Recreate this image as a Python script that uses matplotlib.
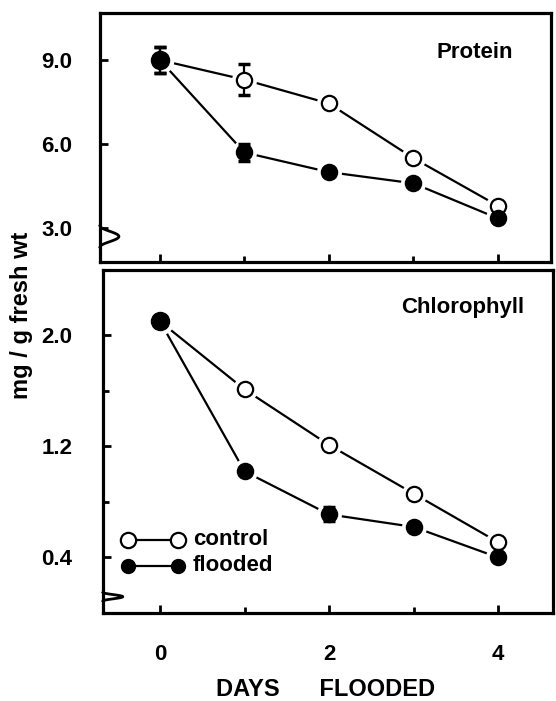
import matplotlib
matplotlib.use("Agg")
import matplotlib.pyplot as plt
import numpy as np

plt.rcParams['font.family'] = ['Liberation Sans', 'DejaVu Sans']
plt.rcParams['font.weight'] = 'bold'

days = [0, 1, 2, 3, 4]
protein_control = [9.0, 8.3, 7.45, 5.5, 3.8]
protein_control_err = [0.45, 0.55, 0, 0, 0]
protein_flooded = [9.0, 5.7, 5.0, 4.6, 3.35]
protein_flooded_err = [0.45, 0.3, 0, 0, 0]
chl_control = [2.1, 1.61, 1.21, 0.86, 0.51]
chl_control_err = [0, 0, 0, 0, 0]
chl_flooded = [2.1, 1.02, 0.71, 0.62, 0.40]
chl_flooded_err = [0, 0, 0.05, 0, 0]

protein_ticks = [3.0, 6.0, 9.0]
protein_ticklabels = ["3.0", "6.0", "9.0"]
chl_ticks = [0.4, 1.2, 2.0]
chl_ticklabels = ["0.4", "1.2", "2.0"]
x_ticks = [0, 2, 4]
x_ticklabels = ["0", "2", "4"]

W, H = 556, 701
fig = plt.figure(figsize=(W/100, H/100), dpi=100)

def fr(l, t, r, b):
    return [l/W, 1-b/H, (r-l)/W, (b-t)/H]

ax1 = fig.add_axes(fr(100, 13, 551, 262))
ax2 = fig.add_axes(fr(103, 270, 553, 613))

TICKFS = 16

def style(ax, xl):
    ax.set_xlim(*xl)
    for s in ax.spines.values():
        s.set_linewidth(2.3)
    ax.tick_params(direction='in', width=2.0, length=6)
    ax.tick_params(axis='both', which='minor', direction='in', width=2.0, length=4)

def draw(ax, ctrl, cerr, fl, ferr, bigm=13, m=11):
    x = np.array(days)
    lw = 1.6
    ax.plot(x[1:], ctrl[1:], '-', color='black', lw=lw, zorder=2)
    ax.plot([x[0], x[1]], [fl[0], ctrl[1]], '-', color='black', lw=lw, zorder=2)
    ax.plot(x, fl, '-', color='black', lw=lw, zorder=2)
    ax.plot(x[1:], ctrl[1:], 'o', ms=m+7, mfc='white', mec='none', zorder=3)
    ax.plot(x[1:], fl[1:], 'o', ms=m+7, mfc='white', mec='none', zorder=3)
    ax.plot(x[:1], fl[:1], 'o', ms=bigm+7, mfc='white', mec='none', zorder=3)
    for xi, yi, e in zip(x, ctrl, cerr):
        if e > 0:
            ax.errorbar(xi, yi, yerr=e, fmt='none', ecolor='black', elinewidth=1.6, capsize=4, capthick=2.5, zorder=4)
    for xi, yi, e in zip(x, fl, ferr):
        if e > 0:
            ax.errorbar(xi, yi, yerr=e, fmt='none', ecolor='black', elinewidth=1.6, capsize=4, capthick=2.5, zorder=4)
    ax.plot(x[1:], ctrl[1:], 'o', ms=m, mfc='white', mec='black', mew=1.6, zorder=5)
    ax.plot(x[1:], fl[1:], 'o', ms=m, mfc='black', mec='black', mew=1.6, zorder=5)
    ax.plot(x[:1], fl[:1], 'o', ms=bigm, mfc='black', mec='black', zorder=5)

def squiggle(ax, ytop, ybot, w):
    t = np.linspace(0, 1, 30)
    ys = ytop + (ybot - ytop) * t
    xs = w * np.sin(np.pi * t) ** 2
    ax.plot(xs, ys, color='black', lw=2.0, transform=ax.transAxes, clip_on=False, zorder=6)

style(ax1, (-0.71, 4.63))
ax1.set_ylim(1.79, 10.68)
ax1.set_yticks(protein_ticks)
ax1.set_yticklabels(protein_ticklabels, fontsize=TICKFS, fontweight='bold')
ax1.set_xticks(x_ticks)
ax1.set_xticks([1, 3], minor=True)
ax1.set_xticklabels([])
ax1.tick_params(axis='y', pad=20)
draw(ax1, protein_control, protein_control_err, protein_flooded, protein_flooded_err)
ax1.text(0.915, 0.84, "Protein", transform=ax1.transAxes, ha='right', va='center', fontsize=16, fontweight='bold')
squiggle(ax1, 0.145, 0.06, 0.042)

style(ax2, (-0.675, 4.65))
ax2.set_ylim(0.0, 2.47)
ax2.set_yticks(chl_ticks)
ax2.set_yticklabels(chl_ticklabels, fontsize=TICKFS, fontweight='bold')
ax2.set_yticks([0.8, 1.6], minor=True)
ax2.set_xticks(x_ticks)
ax2.set_xticks([1, 3], minor=True)
ax2.set_xticklabels(x_ticklabels, fontsize=TICKFS, fontweight='bold')
ax2.tick_params(axis='y', pad=22)
ax2.tick_params(axis='x', pad=22)
draw(ax2, chl_control, chl_control_err, chl_flooded, chl_flooded_err)
ax2.text(0.935, 0.89, "Chlorophyll", transform=ax2.transAxes, ha='right', va='center', fontsize=16, fontweight='bold')
squiggle(ax2, 0.06, 0.035, 0.044)

lx = [0.056, 0.167]
ax2.plot(lx, [0.213, 0.213], '-o', transform=ax2.transAxes, color='black', lw=1.6,
         ms=11, mfc='white', mec='black', mew=1.6, clip_on=False, zorder=6)
ax2.plot(lx, [0.138, 0.138], '-o', transform=ax2.transAxes, color='black', lw=1.6,
         ms=10, mfc='black', mec='black', clip_on=False, zorder=6)
ax2.text(0.2, 0.213, "control", transform=ax2.transAxes, ha='left', va='center', fontsize=16, fontweight='bold')
ax2.text(0.2, 0.138, "flooded", transform=ax2.transAxes, ha='left', va='center', fontsize=16, fontweight='bold')

fig.text(22/W, 1-315/H, "mg / g fresh wt", rotation=90, ha='center', va='center', fontsize=17, fontweight='bold')
fig.text(326/W, 1-690/H, "DAYS      FLOODED", ha='center', va='center', fontsize=17, fontweight='bold')

fig.savefig("out.png", dpi=100)
